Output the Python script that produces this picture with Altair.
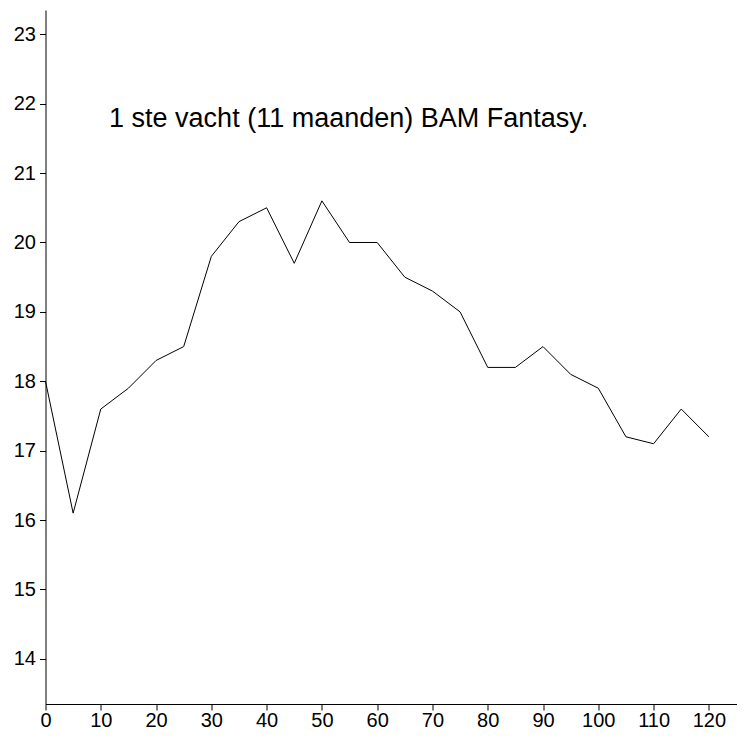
import altair as alt
import pandas as pd

weeks = [0, 5, 10, 15, 20, 25, 30, 35, 40, 45, 50, 55, 60,
         65, 70, 75, 80, 85, 90, 95, 100, 105, 110, 115, 120]
values = [18.0, 16.1, 17.6, 17.9, 18.3, 18.5, 19.8, 20.3, 20.5, 19.7, 20.6, 20.0, 20.0,
          19.5, 19.3, 19.0, 18.2, 18.2, 18.5, 18.1, 17.9, 17.2, 17.1, 17.6, 17.2]
x_ticks = list(range(0, 121, 10))
y_ticks = list(range(14, 24))
label_text = ["1 ste vacht (11 maanden) BAM Fantasy."]
label_x = [11.5]
label_y = [21.66]

df = pd.DataFrame({"x": weeks, "y": values})
lab = pd.DataFrame({"x": label_x, "y": label_y, "t": label_text})

xs = alt.Scale(domain=[0, 125], nice=False, zero=False)
ys = alt.Scale(domain=[13.35, 23.35], nice=False, zero=False)

line = alt.Chart(df).mark_line(color="black", strokeWidth=1).encode(
    x=alt.X("x:Q", scale=xs, title=None,
            axis=alt.Axis(values=x_ticks, format="d", grid=False, domainColor="black", tickColor="black",
                          labelFontSize=20, labelFont="Liberation Sans", labelColor="black",
                          tickSize=6, labelPadding=0, domainWidth=1, tickWidth=1, labelFlush=False)),
    y=alt.Y("y:Q", scale=ys, title=None,
            axis=alt.Axis(values=y_ticks, format="d", grid=False, domainColor="black", tickColor="black",
                          labelFontSize=20, labelFont="Liberation Sans", labelColor="black",
                          tickSize=6, labelPadding=4, domainWidth=1, tickWidth=1, labelFlush=False)),
)

text = alt.Chart(lab).mark_text(
    align="left", baseline="alphabetic", fontSize=27, font="Liberation Sans", color="black"
).encode(x=alt.X("x:Q", scale=xs), y=alt.Y("y:Q", scale=ys), text="t:N")

chart = alt.layer(line, text).properties(
    width=691, height=694,
    background="white",
    autosize=alt.AutoSizeParams(type="none"),
    padding={"left": 37.5, "top": 2, "right": 0.5, "bottom": 26},
).configure_view(stroke=None, strokeWidth=0)

chart.save("out.html", embed_options={"renderer": "svg", "actions": False})
